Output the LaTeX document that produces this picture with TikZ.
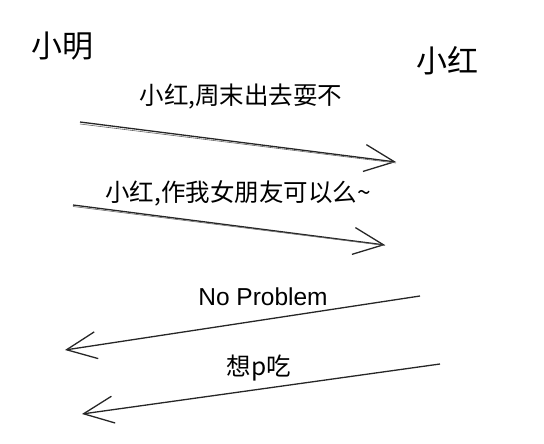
\documentclass[tikz,border=0pt]{standalone}
\usepackage{fontspec}
\setmainfont{Liberation Sans}
\newfontfamily\cjk{Noto Sans CJK SC}
\usetikzlibrary{arrows.meta}

\begin{document}
\begin{tikzpicture}[x=1pt,y=-1pt,
    person/.style={font=\cjk\fontsize{31}{34}\selectfont},
    msg/.style={font=\cjk\fontsize{24.5}{28}\selectfont},
    sketch/.style={line width=1.3pt, black!85,
        -{Straight Barb[length=30pt,width=27pt,line width=1.3pt]}},
    rough/.style={line width=0.6pt, black!60}]

        % ===================================================
        % Frame
        % ===================================================
        \useasboundingbox (0,0) rectangle (544,444);

        % ===================================================
        % Persons
        % ===================================================
        \node[person] (xm) at (62,46) {小明};
        \node[person] (xh) at (447,61) {小红};

        % ===================================================
        % Message ends
        % ===================================================
        \coordinate (a1) at (80,122);  \coordinate (b1) at (396,162);
        \coordinate (a2) at (73,205);  \coordinate (b2) at (385,245);
        \coordinate (a3) at (420,296); \coordinate (b3) at (65,350);
        \coordinate (a4) at (440,364); \coordinate (b4) at (82,414);

        % ===================================================
        % Messages
        % ===================================================
        \draw[sketch] (a1) -- (b1);
        \draw[rough] ([yshift=-2pt]a1) -- ([yshift=-1pt]b1);
        \node[msg] (m1) at (241,97) {小红,周末出去耍不};

        \draw[sketch] (a2) -- (b2);
        \draw[rough] ([yshift=-1.5pt]a2) -- ([yshift=-0.5pt]b2);
        \node[msg] (m2) at (238,193) {小红,作我女朋友可以么\textasciitilde};

        \draw[sketch] (a3) -- (b3);
        \node[font=\fontsize{24.5}{28}\selectfont] (m3) at (263,297) {No Problem};

        \draw[sketch] (a4) -- (b4);
        \node[msg] (m4) at (259,368) {想p吃};

    \end{tikzpicture}
\end{document}
